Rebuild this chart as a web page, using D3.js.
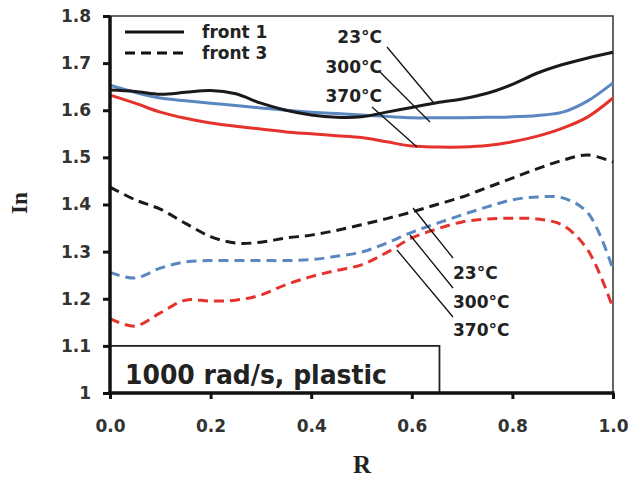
<!DOCTYPE html>
<html><head><meta charset="utf-8">
<script src="https://cdn.jsdelivr.net/npm/d3@7"></script>
<style>body{margin:0;background:#fff}svg{display:block}</style>
</head><body>
<svg id="c" width="630" height="479"></svg>
<script>
const R = [0,0.05,0.1,0.15,0.2,0.25,0.3,0.35,0.4,0.45,0.5,0.55,0.6,0.65,0.7,0.75,0.8,0.85,0.9,0.95,1.0];
const front1_23  = [1.643,1.640,1.634,1.638,1.642,1.635,1.615,1.600,1.590,1.585,1.586,1.596,1.606,1.616,1.624,1.636,1.655,1.679,1.697,1.711,1.723];
const front1_300 = [1.653,1.638,1.626,1.620,1.615,1.610,1.605,1.600,1.596,1.593,1.590,1.587,1.584,1.584,1.584,1.585,1.586,1.589,1.596,1.620,1.658];
const front1_370 = [1.632,1.615,1.596,1.583,1.573,1.566,1.560,1.554,1.550,1.546,1.542,1.533,1.524,1.522,1.522,1.525,1.533,1.545,1.562,1.586,1.626];
const front3_23  = [1.437,1.410,1.390,1.360,1.332,1.318,1.320,1.329,1.335,1.345,1.357,1.370,1.384,1.400,1.416,1.436,1.456,1.476,1.494,1.505,1.490];
const front3_300 = [1.256,1.244,1.265,1.278,1.281,1.281,1.281,1.281,1.283,1.290,1.299,1.318,1.341,1.360,1.378,1.395,1.410,1.416,1.414,1.382,1.262];
const front3_370 = [1.158,1.142,1.170,1.197,1.195,1.197,1.208,1.230,1.247,1.260,1.272,1.298,1.329,1.348,1.363,1.369,1.371,1.369,1.356,1.303,1.180];
const yTicks = [1.0,1.1,1.2,1.3,1.4,1.5,1.6,1.7,1.8];
const xTicks = [0,0.2,0.4,0.6,0.8,1.0];
const legendLabels = ["front 1","front 3"];
const tempLabels = ["23°C","300°C","370°C"];
const boxLabel = "1000 rad/s, plastic";

const colors = ["#1a1a1a","#5b87c0","#e5322d"];
const sans = "'DejaVu Sans', sans-serif";
const svg = d3.select("#c");
const x = d3.scaleLinear().domain([0,1]).range([110,613]);
const y = d3.scaleLinear().domain([1.0,1.8]).range([393,16]);

// frame top/right
svg.append("path").attr("d",`M${x(0)},${y(1.8)}H${x(1)}V${y(1.0)}`)
  .attr("fill","none").attr("stroke","#333").attr("stroke-width",1.5);

// label box
svg.append("rect").attr("x",x(0)).attr("y",y(1.1)).attr("width",x(0.655)-x(0)).attr("height",y(1.0)-y(1.1))
  .attr("fill","#fff").attr("stroke","#222").attr("stroke-width",1.8);
svg.append("text").attr("x",125).attr("y",384).text(boxLabel)
  .attr("font-family",sans).attr("font-weight","bold").attr("font-size",27).attr("fill","#222")
  .attr("textLength",262).attr("lengthAdjust","spacingAndGlyphs");

const line = d3.line().x((d,i)=>x(R[i])).y(d=>y(d)).curve(d3.curveCatmullRom.alpha(0.5));
const series = [
 {v:front3_23,c:0,dash:true},{v:front3_300,c:1,dash:true},{v:front3_370,c:2,dash:true},
 {v:front1_370,c:2,dash:false},{v:front1_300,c:1,dash:false},{v:front1_23,c:0,dash:false}
];
series.forEach(s=>{
  svg.append("path").attr("d",line(s.v)).attr("fill","none").attr("stroke",colors[s.c])
    .attr("stroke-width",3).attr("stroke-dasharray",s.dash?"10,6":null);
});

// axes
const yAxis = svg.append("g").attr("transform",`translate(${x(0)},0)`)
  .call(d3.axisLeft(y).tickValues(yTicks).tickSize(7).tickPadding(12)
  .tickFormat(d=>d===1?"1":d3.format(".1f")(d)));
const xAxis = svg.append("g").attr("transform",`translate(0,${y(1.0)})`)
  .call(d3.axisBottom(x).tickValues(xTicks).tickSize(6).tickPadding(21).tickFormat(d3.format(".1f")));
[yAxis,xAxis].forEach(g=>{
  g.select(".domain").attr("stroke","#111").attr("stroke-width",3.5);
  g.selectAll(".tick line").attr("stroke","#111").attr("stroke-width",3);
  g.selectAll("text").attr("font-family",sans).attr("font-weight","bold")
   .attr("font-size",17).attr("fill","#333");
});
yAxis.select(".domain").attr("d",`M0,${y(1.8)}V${y(1.0)+1.5}`);
xAxis.select(".domain").attr("d",`M${x(0)-1.5},0H${x(1)+1.5}`);

// axis titles
svg.append("text").attr("transform","translate(27,203) rotate(-90)").attr("text-anchor","middle")
  .attr("font-family","'Liberation Serif', 'DejaVu Serif', serif").attr("font-weight","bold").attr("font-size",23)
  .attr("fill","#222").text("In");
svg.append("text").attr("x",362).attr("y",473).attr("text-anchor","middle")
  .attr("font-family","'Liberation Serif', 'DejaVu Serif', serif").attr("font-weight","bold").attr("font-size",25)
  .attr("fill","#222").text("R");

// legend
const lg = svg.append("g");
[[32,null],[53,"10,6"]].forEach((d,i)=>{
  lg.append("line").attr("x1",125).attr("x2",184).attr("y1",d[0]).attr("y2",d[0])
    .attr("stroke","#111").attr("stroke-width",3).attr("stroke-dasharray",d[1]);
  lg.append("text").attr("x",202).attr("y",d[0]+6).text(legendLabels[i])
    .attr("font-family",sans).attr("font-weight","bold").attr("font-size",17).attr("fill","#222");
});

// annotations
const upper = [
  {tx:382,ty:43,l:[387,47,433,102]},
  {tx:382,ty:73,l:[380,72,430,122]},
  {tx:382,ty:102,l:[372,107,417,147]}
];
const lower = [
  {tx:453,ty:279,l:[413,208,453,258]},
  {tx:453,ty:308,l:[410,235,453,288]},
  {tx:453,ty:336,l:[397,250,453,317]}
];
upper.forEach((a,i)=>{
  svg.append("line").attr("x1",a.l[0]).attr("y1",a.l[1]).attr("x2",a.l[2]).attr("y2",a.l[3]).attr("stroke","#111").attr("stroke-width",1.3);
  svg.append("text").attr("x",a.tx).attr("y",a.ty).attr("text-anchor","end").text(tempLabels[i])
    .attr("font-family",sans).attr("font-weight","bold").attr("font-size",17).attr("fill","#222");
});
lower.forEach((a,i)=>{
  svg.append("line").attr("x1",a.l[0]).attr("y1",a.l[1]).attr("x2",a.l[2]).attr("y2",a.l[3]).attr("stroke","#111").attr("stroke-width",1.3);
  svg.append("text").attr("x",a.tx).attr("y",a.ty).text(tempLabels[i])
    .attr("font-family",sans).attr("font-weight","bold").attr("font-size",17).attr("fill","#222");
});
</script>
</body></html>
